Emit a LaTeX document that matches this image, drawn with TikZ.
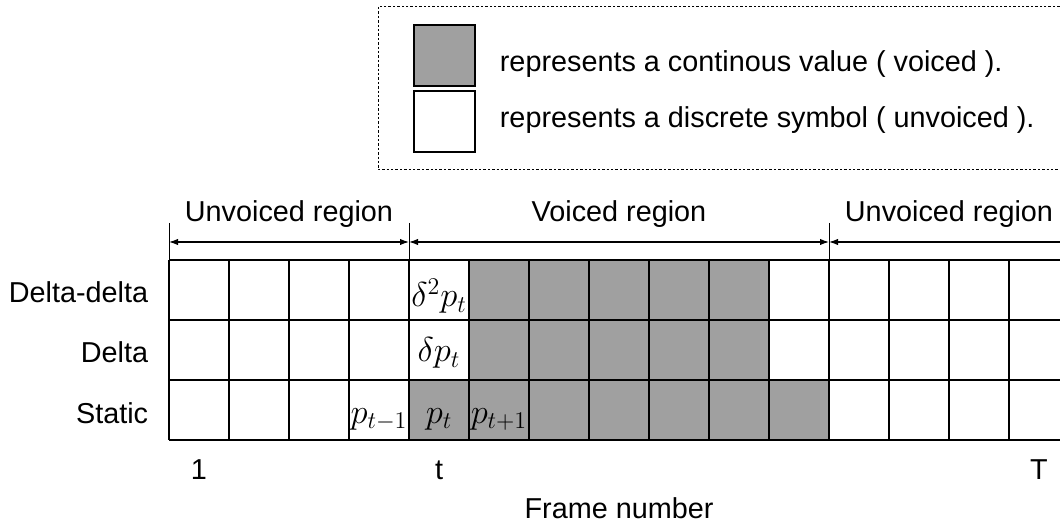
\documentclass[tikz,border=0pt]{standalone}
\usepackage[no-math]{fontspec}
\setmainfont{Liberation Sans}
\usepackage{amsmath}
\usetikzlibrary{arrows.meta}
\definecolor{voicedgray}{RGB}{160,160,160}

\begin{document}
\begin{tikzpicture}[x=0.5pt,y=0.5pt,yscale=-1,xscale=1,
  lbl/.style={font=\fontsize{14.4}{17}\selectfont,inner sep=0.75pt},
  sym/.style={font=\fontsize{17}{20}\selectfont,inner sep=0.75pt},
  cell/.style={line width=0.9pt},
  tick/.style={line width=0.5pt},
  span/.style={line width=0.6pt,{Latex[length=4.5pt,width=3.2pt]}-{Latex[length=4.5pt,width=3.2pt]}}]
\useasboundingbox (0,0) rectangle (1060,523);
\clip (0,0) rectangle (1060,523);

%Shape: Rectangle [legend frame]
\draw [line width=0.5pt,dash pattern=on 1.2pt off 1pt] (378,7) rectangle (1075,170) ;
%Shape: Square [voiced key]
\draw [cell,fill=voicedgray] (414,25) rectangle (475,86) ;
%Shape: Square [unvoiced key]
\draw [cell] (414,91) rectangle (475,152) ;

% Text Node
\draw (498,72) node [anchor=base west][lbl] (voicedkey) {represents a continous value ( voiced ).};
% Text Node
\draw (498,128) node [anchor=base west][lbl] (unvoicedkey) {represents a discrete symbol ( unvoiced ).};

%Shape: Rectangle [voiced cells, delta rows]
\fill [voicedgray] (469,260) rectangle (769,380) ;
%Shape: Rectangle [voiced cells, static row]
\fill [voicedgray] (409,380) rectangle (829,440) ;

%Straight Lines [rows]
\draw [cell] (169,260) -- (1069,260) (169,320) -- (1069,320) (169,380) -- (1069,380) (169,440) -- (1069,440) ;
%Straight Lines [frames]
\draw [cell] (229,260) -- (229,440) (289,260) -- (289,440) (349,260) -- (349,440) ;
\draw [cell] (469,260) -- (469,440) (529,260) -- (529,440) (589,260) -- (589,440) (649,260) -- (649,440) (709,260) -- (709,440) (769,260) -- (769,440) ;
\draw [cell] (889,260) -- (889,440) (949,260) -- (949,440) (1009,260) -- (1009,440) (1069,260) -- (1069,440) ;
%Straight Lines [region borders]
\draw [cell] (169,260) -- (169,440) (409,260) -- (409,440) (829,260) -- (829,440) ;
\draw [tick] (169,223) -- (169,260) (409,223) -- (409,260) (829,223) -- (829,260) ;

\coordinate (uvstart) at (169,242) ;
\coordinate (vstart) at (409,242) ;
\coordinate (vend) at (829,242) ;
\coordinate (uvend) at (1069,242) ;
%Straight Lines [region spans]
\draw [span] (uvstart) -- (vstart) ;
\draw [span] (vstart) -- (vend) ;
\draw [span] (vend) -- (uvend) ;

% Text Node
\draw (289,222) node [anchor=base][lbl] (unvoicedA) {Unvoiced region};
% Text Node
\draw (619,222) node [anchor=base][lbl] (voiced) {Voiced region};
% Text Node
\draw (949,222) node [anchor=base][lbl] (unvoicedB) {Unvoiced region};

% Text Node
\draw (150,303) node [anchor=base east][lbl] (deltadelta) {Delta-delta};
% Text Node
\draw (150,363) node [anchor=base east][lbl] (delta) {Delta};
% Text Node
\draw (150,423) node [anchor=base east][lbl] (static) {Static};

% Text Node
\draw (439,307) node [anchor=base][sym] (ddp) {$\delta^2 p_t$};
% Text Node
\draw (439,362) node [anchor=base][sym] (dp) {$\delta p_t$};
% Text Node
\draw (379,423) node [anchor=base][sym] (pprev) {$p_{t-1}$};
% Text Node
\draw (439,423) node [anchor=base][sym] (pt) {$p_t$};
% Text Node
\draw (499,423) node [anchor=base][sym] (pnext) {$p_{t+1}$};

% Text Node
\draw (199,480) node [anchor=base][lbl] (first) {1};
% Text Node
\draw (439,480) node [anchor=base][lbl] (current) {t};
% Text Node
\draw (1039,480) node [anchor=base][lbl] (last) {T};
% Text Node
\draw (619,518) node [anchor=base][lbl] (axis) {Frame number};

\end{tikzpicture}
\end{document}
